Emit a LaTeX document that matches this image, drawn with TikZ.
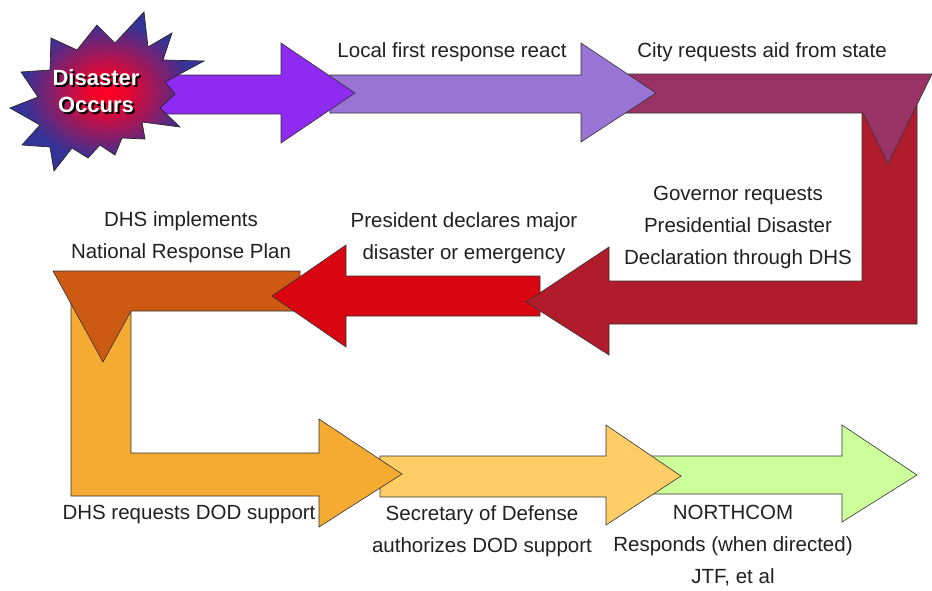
\documentclass[tikz,border=0pt]{standalone}
\usepackage{fontspec}
\setmainfont{Liberation Sans}
\definecolor{violetA}{RGB}{143,43,240}
\definecolor{lavender}{RGB}{154,116,212}
\definecolor{plum}{RGB}{153,51,102}
\definecolor{crimson}{RGB}{176,28,43}
\definecolor{signal}{RGB}{217,6,18}
\definecolor{rust}{RGB}{204,90,18}
\definecolor{amber}{RGB}{245,170,49}
\definecolor{sand}{RGB}{255,204,102}
\definecolor{mint}{RGB}{204,255,153}
\definecolor{inkgray}{RGB}{35,31,32}
\definecolor{starblue}{RGB}{51,51,153}
\definecolor{starred}{RGB}{255,0,34}
\pgfdeclareradialshading{burst}{\pgfpoint{0bp}{0bp}}{%
  color(0bp)=(starred); color(5bp)=(starred!90!starblue);
  color(22bp)=(starblue); color(50bp)=(starblue)}
\newcommand{\burstlines}{\begin{tabular}{@{}c@{}}Disaster\\[1pt]Occurs\end{tabular}}
\tikzset{
  flow/.style={draw=black!80, line width=0.6pt, line join=miter},
  label/.style={text=inkgray, align=center, inner sep=0pt,
    font=\fontsize{20.5}{32}\selectfont},
  burstlabel/.style={inner sep=0pt,
    font=\fontsize{22}{26}\selectfont\bfseries}
}
\begin{document}
\begin{tikzpicture}[x=1pt,y=-1pt]
\useasboundingbox (0,0) rectangle (932,590);

% --- arrows, drawn from last to first so each head overlaps the next shaft
% NORTHCOM arrow
\path[flow, fill=mint] (650,456) -- (842,456) -- (842,425) -- (917,475)
  -- (842,522) -- (842,494) -- (650,494) -- cycle;
% Secretary of Defense arrow
\path[flow, fill=sand] (380,456) -- (606,456) -- (606,425) -- (681,476)
  -- (606,525) -- (606,497) -- (380,497) -- cycle;
% DHS requests DOD support (bent arrow)
\path[flow, fill=amber] (71,300) -- (131,300) -- (131,453) -- (319,453)
  -- (319,419) -- (402,474) -- (319,527) -- (319,496) -- (71,496) -- cycle;
% DHS implements National Response Plan (bent arrow, head down)
\path[flow, fill=rust] (300,271) -- (300,311) -- (131,311) -- (103,362)
  -- (53,271) -- cycle;
% President declares
\path[flow, fill=signal] (540,276) -- (540,316) -- (346,316) -- (346,347)
  -- (272,296) -- (346,245) -- (346,276) -- cycle;
% Governor requests (U-turn arrow)
\path[flow, fill=crimson] (862,100) -- (917,100) -- (917,324) -- (609,324)
  -- (609,355) -- (526,302) -- (609,247) -- (609,281) -- (862,281) -- cycle;
% City requests aid (bent arrow, head down)
\path[flow, fill=plum] (620,74) -- (932,74) -- (888,164) -- (863,113)
  -- (620,113) -- cycle;
% Local first response
\path[flow, fill=lavender] (330,75) -- (581,75) -- (581,43) -- (656,93)
  -- (581,142) -- (581,113) -- (330,113) -- cycle;
% first arrow out of the burst
\path[flow, fill=violetA] (150,75) -- (281,75) -- (281,43) -- (355,93)
  -- (281,143) -- (281,114) -- (150,114) -- cycle;

% --- burst
\path[draw=black!85, line width=0.7pt, shading=burst]
  (144,12) -- (148,47) -- (172,33) -- (163,60) -- (204,61) -- (165,82)
  -- (175,94) -- (160,108) -- (180,127) -- (142,122) -- (145,139)
  -- (122,138) -- (115,155) -- (100,145) -- (88,158) -- (72,148)
  -- (54,171) -- (50,147) -- (22,145) -- (40,125) -- (10,108) -- (38,97)
  -- (21,72) -- (50,70) -- (51,38) -- (77,50) -- (97,25) -- (115,43)
  -- cycle;
\node[burstlabel] (burst) at (96,95)
  {\rlap{\kern2pt\raisebox{-2pt}{\color{black}\burstlines}}\color{white}\burstlines};

% --- labels
\node[label] (local) at (452,52) {Local first response react};
\node[label] (city) at (762,52) {City requests aid from state};
\node[label] (governor) at (738,227) {Governor requests\\Presidential Disaster\\Declaration through DHS};
\node[label] (president) at (464,238) {President declares major\\disaster or emergency};
\node[label] (dhsplan) at (181,237) {DHS implements\\National Response Plan};
\node[label] (dhsdod) at (189,514) {DHS requests DOD support};
\node[label] (secdef) at (482,531) {Secretary of Defense\\authorizes DOD support};
\node[label] (northcom) at (733,546) {NORTHCOM\\Responds (when directed)\\JTF, et al};
\end{tikzpicture}
\end{document}
